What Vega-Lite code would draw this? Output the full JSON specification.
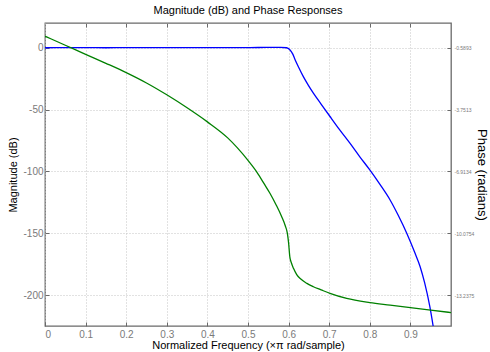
{
  "$schema": "https://vega.github.io/schema/vega-lite/v6.json",
  "width": 406,
  "height": 303,
  "autosize": {"type": "none"},
  "padding": {"left": 45, "top": 23, "right": 39, "bottom": 26},
  "background": "white",
  "title": {"text": "Magnitude (dB) and Phase Responses", "font": "Liberation Sans", "fontSize": 11, "fontWeight": "normal", "color": "#000000", "offset": 7},
  "config": {
    "view": {"stroke": "#6a6a6a", "strokeWidth": 1.3},
    "axis": {
      "labelFont": "Liberation Sans",
      "titleFont": "Liberation Sans",
      "labelColor": "#7a7a7a",
      "titleColor": "#000000",
      "titleFontWeight": "normal",
      "domainColor": "#6a6a6a",
      "tickColor": "#6a6a6a",
      "gridColor": "#c4c4c4",
      "gridDash": [1, 2],
      "gridWidth": 1,
      "tickSize": -4,
      "labelFontSize": 10,
      "titleFontSize": 11
    }
  },
  "datasets": {
    "mag": [
      {"f": 0, "mag": 0},
      {"f": 0.05, "mag": 0.05},
      {"f": 0.1, "mag": 0.03},
      {"f": 0.15, "mag": 0},
      {"f": 0.2, "mag": 0.05},
      {"f": 0.25, "mag": 0.1},
      {"f": 0.3, "mag": 0.05},
      {"f": 0.35, "mag": 0.03},
      {"f": 0.4, "mag": 0.08},
      {"f": 0.45, "mag": 0.15},
      {"f": 0.5, "mag": 0.1},
      {"f": 0.55, "mag": 0.25},
      {"f": 0.58, "mag": 0.25},
      {"f": 0.595, "mag": 0},
      {"f": 0.603, "mag": -1.6},
      {"f": 0.61, "mag": -5},
      {"f": 0.616, "mag": -9.7},
      {"f": 0.625, "mag": -16},
      {"f": 0.636, "mag": -23.2},
      {"f": 0.648, "mag": -30},
      {"f": 0.661, "mag": -36.7},
      {"f": 0.68, "mag": -45.5},
      {"f": 0.702, "mag": -55.6},
      {"f": 0.725, "mag": -66},
      {"f": 0.751, "mag": -77.2},
      {"f": 0.775, "mag": -88},
      {"f": 0.8, "mag": -98.8},
      {"f": 0.825, "mag": -110.5},
      {"f": 0.85, "mag": -123.1},
      {"f": 0.87, "mag": -135.5},
      {"f": 0.891, "mag": -150},
      {"f": 0.91, "mag": -165},
      {"f": 0.924, "mag": -177.1},
      {"f": 0.935, "mag": -190},
      {"f": 0.948, "mag": -209.5},
      {"f": 0.956, "mag": -225},
      {"f": 0.965, "mag": -245}
    ],
    "phase": [
      {"f": 0, "phase": 0},
      {"f": 0.05, "phase": -0.463},
      {"f": 0.1, "phase": -0.927},
      {"f": 0.15, "phase": -1.385},
      {"f": 0.2, "phase": -1.86},
      {"f": 0.25, "phase": -2.39},
      {"f": 0.3, "phase": -2.996},
      {"f": 0.35, "phase": -3.66},
      {"f": 0.4, "phase": -4.38},
      {"f": 0.45, "phase": -5.2},
      {"f": 0.5, "phase": -6.35},
      {"f": 0.521, "phase": -6.924},
      {"f": 0.54, "phase": -7.553},
      {"f": 0.554, "phase": -8.03},
      {"f": 0.57, "phase": -8.655},
      {"f": 0.583, "phase": -9.228},
      {"f": 0.592, "phase": -9.704},
      {"f": 0.597, "phase": -10.078},
      {"f": 0.6, "phase": -10.575},
      {"f": 0.603, "phase": -11.276},
      {"f": 0.607, "phase": -11.6},
      {"f": 0.612, "phase": -11.87},
      {"f": 0.62, "phase": -12.19},
      {"f": 0.63, "phase": -12.42},
      {"f": 0.645, "phase": -12.64},
      {"f": 0.661, "phase": -12.81},
      {"f": 0.68, "phase": -12.97},
      {"f": 0.702, "phase": -13.15},
      {"f": 0.743, "phase": -13.41},
      {"f": 0.8, "phase": -13.62},
      {"f": 0.85, "phase": -13.75},
      {"f": 0.9, "phase": -13.88},
      {"f": 0.95, "phase": -14.01},
      {"f": 1.0, "phase": -14.13}
    ]
  },
  "layer": [
    {
      "data": {"name": "mag"},
      "mark": {"type": "line", "color": "#0000ff", "strokeWidth": 1.3, "clip": true, "interpolate": "monotone"},
      "encoding": {
        "x": {
          "field": "f", "type": "quantitative",
          "scale": {"domain": [0, 1], "nice": false, "zero": false},
          "axis": {"orient": "bottom", "values": [0, 0.1, 0.2, 0.3, 0.4, 0.5, 0.6, 0.7, 0.8, 0.9], "grid": true, "title": "Normalized Frequency (×π rad/sample)", "labelExpr": "datum.value == 0 ? '0' : format(datum.value, '.1f')", "labelPadding": 7, "titlePadding": 0, "domain": false}
        },
        "y": {
          "field": "mag", "type": "quantitative",
          "scale": {"domain": [-225, 20], "nice": false, "zero": false},
          "axis": {"orient": "left", "values": [0, -50, -100, -150, -200], "grid": true, "title": "Magnitude (dB)", "labelExpr": "replace(format(datum.value, 'd'), '−', '-')", "labelPadding": 6, "titlePadding": 4, "domain": false}
        }
      }
    },
    {
      "data": {"name": "phase"},
      "mark": {"type": "line", "color": "#008000", "strokeWidth": 1.3, "clip": true, "interpolate": "monotone"},
      "encoding": {
        "x": {
          "field": "f", "type": "quantitative",
          "axis": {"orient": "top", "values": [0.1, 0.2, 0.3, 0.4, 0.5, 0.6, 0.7, 0.8, 0.9], "labels": false, "grid": false, "title": null, "domain": false}
        },
        "y": {
          "field": "phase", "type": "quantitative",
          "scale": {"domain": [-14.81853, 0.67552], "nice": false, "zero": false},
          "axis": {"orient": "right", "values": [-0.5893, -3.7513, -6.9134, -10.0754, -13.2375], "grid": false, "title": "Phase (radians)", "titleFontSize": 13, "labelFontSize": 5, "labelExpr": "replace(format(datum.value, '.4f'), '−', '-')", "labelPadding": 7, "titlePadding": 1, "domain": false}
        }
      }
    }
  ],
  "resolve": {"scale": {"y": "independent"}, "axis": {"x": "independent"}}
}
